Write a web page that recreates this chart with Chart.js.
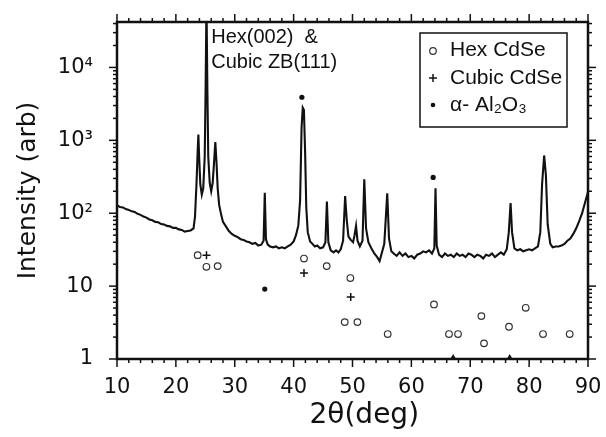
<!DOCTYPE html>
<html><head><meta charset="utf-8">
<script src="https://cdn.jsdelivr.net/npm/chart.js@4"></script>
<style>html,body{margin:0;padding:0;background:#fff;}canvas{display:block}</style>
</head><body>
<canvas id="c" width="606" height="437"></canvas>
<script>
// ---- data ----
const twoTheta = [10,10.5,11,11.5,12,12.5,13,13.5,14,14.5,15,15.5,16,16.5,17,17.5,18,18.5,19,19.5,20,20.5,21,21.5,22,22.5,
23.0,23.25,23.5,23.7,23.82,23.95,24.15,24.4,24.65,24.9,25.05,25.2,25.35,25.5,25.75,26.0,26.25,26.45,26.7,26.9,27.1,27.35,27.7,
28.0,28.5,29.0,29.5,30.0,30.5,31.0,31.5,32.0,32.5,33.0,33.5,34.0,34.5,34.9,35.1,35.3,35.6,36.0,36.5,37.0,37.5,38.0,38.5,39.0,39.5,
40.0,40.4,40.8,41.1,41.35,41.55,41.75,41.95,42.15,42.4,42.8,43.2,43.6,44.0,44.5,45.0,45.4,45.65,45.9,46.3,46.8,47.2,47.6,48.0,48.4,
48.75,49.0,49.3,49.7,50.1,50.35,50.6,50.85,51.25,51.7,52.0,52.3,52.7,53.2,53.7,54.2,54.6,55.0,55.4,55.9,56.2,56.6,57.0,57.5,58.0,
58.5,59.0,59.5,60.0,60.5,61.0,61.5,62.0,62.5,63.0,63.5,63.9,64.1,64.3,64.7,65.2,65.7,66.2,66.7,67.2,67.7,68.2,68.7,69.2,69.7,70.2,
70.7,71.2,71.7,72.2,72.7,73.2,73.7,74.2,74.7,75.2,75.7,76.2,76.55,76.85,77.1,77.5,78.0,78.5,79.0,79.5,80.0,80.5,81.0,81.5,81.9,
82.2,82.55,82.85,83.15,83.6,84.0,84.5,85.0,85.5,86.0,86.5,87.0,87.5,88.0,88.5,89.0,89.5,90.0];
const intensity = [128,122,120,114,111,106,104,98,95,90,87,82,80,76,75,71,70,67,66,63,63,60,59,56,57,58,
62,90,250,700,1200,600,250,180,220,600,5000,80000,5000,600,260,200,260,450,950,500,220,130,95,
76,66,57,52,49,47,44,43,41,40,38,39,36,37,42,190,44,37,35,34,35,33,34,33,35,37,
41,50,68,150,1500,2800,2600,700,120,55,41,38,35,36,33,34,40,145,40,31,29,31,29,32,42,
172,85,48,43,40,50,67,42,35,42,292,62,40,33,28,25,22,29,38,188,45,30,28,26,29,
26,28,25,26,24,27,28,30,29,31,28,33,220,36,27,25,28,26,27,25,28,26,27,25,28,27,
25,27,26,24,27,26,28,25,27,29,27,32,55,138,55,33,31,32,30,31,32,31,33,35,55,
250,620,330,70,38,34,35,35,36,38,42,45,52,62,78,100,140,195];

const hexX = [23.7,25.19,27.1,41.76,45.62,49.64,48.68,50.83,55.98,63.84,66.39,67.92,71.89,72.34,76.58,79.42,82.36,86.89];
const hexY = [26.6,18.4,18.8,23.9,18.8,12.9,3.21,3.21,2.2,5.6,2.2,2.2,3.88,1.64,2.77,5.04,2.2,2.2];
const cubicX = [25.2,41.76,49.7];
const cubicY = [26.6,15.1,7.07];
const alX = [35.1,41.4,63.7];
const alY = [9.1,3900,310];
const alAxisX = [67.1,76.7];
const alAxisY = [1.05,1.05];

const xTickValues = [10,20,30,40,50,60,70,80,90];
const yTickValues = [1,10,100,1000,10000];
const yTickLabels = ['1','10','10²','10³','10⁴'];
const legendLabels = ['Hex CdSe','Cubic CdSe','α- Al₂O₃'];
const peakNote = ['Hex(002)  &','Cubic ZB(111)'];
const xTitle = '2θ(deg)';
const yTitle = 'Intensity (arb)';

const INK = '#111';
const FONT = '"DejaVu Sans", sans-serif';
const AFONT = '"Liberation Sans", Arial, sans-serif';

const pts = (xs, ys) => xs.map((v,i)=>({x:v, y:ys[i]}));

const frame = {
  id:'frame',
  afterDraw(chart){
    const {ctx, chartArea:a, scales:{x,y}} = chart;
    ctx.save();
    ctx.strokeStyle = INK;
    ctx.lineWidth = 1.5;
    const seg=(x1,y1,x2,y2)=>{ctx.beginPath();ctx.moveTo(x1,y1);ctx.lineTo(x2,y2);ctx.stroke();};
    for (let v=x.min; v<=x.max+1e-9; v+=2){
      const px = x.getPixelForValue(v);
      const L = (Math.round(v)%10===0)?8:4;
      seg(px,a.bottom,px,a.bottom+L);
      seg(px,a.top,px,a.top-L);
    }
    for (let d=0; d<5; d++){
      for (let m=1; m<10; m++){
        const v = m*Math.pow(10,d);
        if (v>y.max) break;
        const py = y.getPixelForValue(v);
        const L = m===1?8:4;
        seg(a.left,py,a.left-L,py);
        seg(a.right,py,a.right+L,py);
      }
    }
    ctx.lineWidth = 2.5;
    ctx.strokeRect(a.left,a.top,a.width,a.height);

    ctx.fillStyle = INK;
    ctx.textBaseline = 'middle';
    // x axis title (sits a little right of centre in the original)
    ctx.textAlign = 'center';
    ctx.font = '28px '+FONT;
    ctx.fillText(xTitle, x.getPixelForValue(52), 416);

    // peak annotation
    ctx.font = '20px '+AFONT;
    ctx.textAlign = 'left';
    const nx = x.getPixelForValue(26.0);
    ctx.fillText(peakNote[0], nx, 37);
    ctx.fillText(peakNote[1], nx, 62);

    // legend box
    ctx.lineWidth = 1.5;
    ctx.strokeRect(420,33,147,94);
    ctx.font = '21px '+AFONT;
    const rows=[50,78,105];
    ctx.fillText(legendLabels[0],450,rows[0]);
    ctx.fillText(legendLabels[1],450,rows[1]);
    ctx.fillText(legendLabels[2],450,rows[2]);
    ctx.lineWidth=1.2;
    ctx.strokeStyle='#333';
    ctx.beginPath();ctx.arc(433,rows[0]+1,3.3,0,Math.PI*2);ctx.stroke();
    ctx.strokeStyle=INK;
    ctx.lineWidth=1.5;
    seg(429,rows[1],437,rows[1]); seg(433,rows[1]-4,433,rows[1]+4);
    ctx.beginPath();ctx.arc(433,rows[2],2.3,0,Math.PI*2);ctx.fill();
    ctx.restore();
  }
};

new Chart(document.getElementById('c'), {
  type:'scatter',
  data:{datasets:[
    {data:pts(twoTheta,intensity), showLine:true, borderColor:INK, borderWidth:2.1, pointRadius:0, tension:0, order:5},
    {data:pts(hexX,hexY), pointStyle:'circle', pointRadius:3.3, borderWidth:1.2, borderColor:'#333', backgroundColor:'rgba(0,0,0,0)'},
    {data:pts(cubicX,cubicY), pointStyle:'cross', pointRadius:4, borderWidth:1.5, borderColor:INK},
    {data:pts(alX,alY), pointStyle:'circle', pointRadius:2.6, borderWidth:0, backgroundColor:INK},
    {data:pts(alAxisX,alAxisY), pointStyle:'triangle', pointRadius:3.5, borderWidth:0, backgroundColor:INK, clip:false}
  ]},
  options:{
    responsive:false, animation:false, devicePixelRatio:1,
    layout:{padding:{top:22,right:18,left:0,bottom:0}},
    plugins:{legend:{display:false}, tooltip:{enabled:false}},
    scales:{
      x:{type:'linear', position:'bottom', min:10, max:90,
        afterBuildTicks:s=>{s.ticks = xTickValues.map(v=>({value:v}));},
        afterFit:s=>{s.height=78; s.paddingLeft=0; s.paddingRight=0;},
        grid:{display:false, drawTicks:false}, border:{display:false},
        ticks:{padding:16, color:INK, font:{family:FONT,size:21}, maxRotation:0, autoSkip:false},
        title:{display:false, text:xTitle}
      },
      y:{type:'logarithmic', position:'left', min:1, max:42000,
        afterBuildTicks:s=>{s.ticks = yTickValues.map(v=>({value:v}));},
        afterFit:s=>{s.width=117; s.paddingTop=0; s.paddingBottom=0;},
        grid:{display:false, drawTicks:false}, border:{display:false},
        ticks:{padding:24, color:INK, font:{family:FONT,size:21}, autoSkip:false,
          callback:(v)=>{const i=yTickValues.indexOf(v); return i>=0?yTickLabels[i]:'';}},
        title:{display:true, text:yTitle, color:INK, font:{family:FONT,size:25}, padding:{top:13,bottom:0}}
      }
    }
  },
  plugins:[frame]
});
</script>
</body></html>
